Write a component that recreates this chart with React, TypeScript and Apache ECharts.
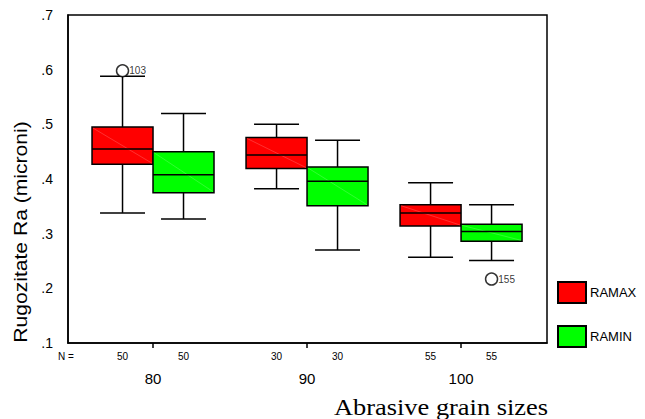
import React, { useEffect, useRef } from "react";
import * as echarts from "echarts";

const categories = ["80", "90", "100"];
const seriesNames = ["RAMAX", "RAMIN"];
const seriesColors = ["#ff0000", "#00ff00"];
const diagColors = ["#ff8a8a", "#8aff8a"];
// [low whisker, Q1, median, Q3, high whisker]
const ramaxStats = [
  [0.338, 0.427, 0.455, 0.495, 0.588],
  [0.382, 0.419, 0.444, 0.476, 0.5],
  [0.257, 0.314, 0.338, 0.353, 0.393],
];
const raminStats = [
  [0.327, 0.375, 0.408, 0.45, 0.52],
  [0.27, 0.351, 0.396, 0.422, 0.471],
  [0.251, 0.286, 0.304, 0.317, 0.353],
];
const ramaxN = [50, 30, 55];
const raminN = [50, 30, 55];
// [category index, value, case label]
const ramaxOutliers = [[0, 0.598, "103"]];
const raminOutliers = [[2, 0.217, "155"]];

const yMin = 0.1;
const yMax = 0.7;
const yStep = 0.1;

const SANS = "'Liberation Sans', Arial, sans-serif";
const SERIF = "'Liberation Serif', 'Times New Roman', serif";

const HALF = 0.198; // half box width in category units
const CAP = 0.146; // half whisker cap width

function buildOption() {
  const stats = [ramaxStats, raminStats];
  const counts = [ramaxN, raminN];
  const outliers = [ramaxOutliers, raminOutliers];

  const boxSeries = stats.map((st, si) => ({
    type: "custom",
    name: seriesNames[si],
    clip: false,
    itemStyle: { color: seriesColors[si], borderColor: "#000", borderWidth: 1 },
    data: st.map((s, ci) => [ci, ...s, counts[si][ci]]),
    renderItem: (params: any, api: any) => {
      const cat = api.value(0);
      const low = api.value(1);
      const q1 = api.value(2);
      const med = api.value(3);
      const q3 = api.value(4);
      const high = api.value(5);
      const n = api.value(6);
      const off = si === 0 ? -HALF : HALF;
      const cx = cat + 1 + off;
      const left = api.coord([cx - HALF, q3]);
      const right = api.coord([cx + HALF, q1]);
      const pMed = api.coord([cx, med]);
      const pLow = api.coord([cx, low]);
      const pHigh = api.coord([cx, high]);
      const capL = api.coord([cx - CAP, low])[0];
      const capR = api.coord([cx + CAP, low])[0];
      const xc = pMed[0];
      const line = (x1: number, y1: number, x2: number, y2: number, color = "#000", w = 1.5, op = 1) => ({
        type: "line",
        shape: { x1, y1, x2, y2 },
        style: { stroke: color, lineWidth: w, opacity: op },
      });
      const base = api.coord([cx, yMin]);
      return {
        type: "group",
        children: [
          line(xc, pHigh[1], xc, left[1]),
          line(xc, right[1], xc, pLow[1]),
          line(capL, pHigh[1], capR, pHigh[1]),
          line(capL, pLow[1], capR, pLow[1]),
          {
            type: "rect",
            shape: { x: left[0], y: left[1], width: right[0] - left[0], height: right[1] - left[1] },
            style: { fill: seriesColors[si], stroke: "#000", lineWidth: 1.5 },
          },
          line(left[0] + 1, left[1] + 1, right[0] - 1, right[1] - 1, diagColors[si], 0.5, 0.7),
          line(left[0], pMed[1], right[0], pMed[1]),
          {
            type: "text",
            style: {
              text: String(n),
              x: xc,
              y: base[1] + 13,
              align: "center",
              verticalAlign: "middle",
              font: `10px ${SANS}`,
              fill: "#000",
            },
          },
        ],
      };
    },
  }));

  const outlierSeries = outliers.map((os, si) => ({
    type: "scatter",
    name: seriesNames[si] + " outliers",
    symbol: "circle",
    symbolSize: 12,
    itemStyle: { color: "#fff", borderColor: "#000", borderWidth: 1.5 },
    data: os.map((o) => [(o[0] as number) + 1 + (si === 0 ? -HALF : HALF), o[1], o[2]]),
    label: {
      show: true,
      position: "right",
      distance: 0,
      formatter: (p: any) => p.data[2],
      fontSize: 10,
      fontFamily: SANS,
      color: "#000",
    },
    z: 5,
  }));

  return {
    animation: false,
    backgroundColor: "#fff",
    grid: {
      left: 68,
      top: 15,
      width: 479,
      height: 328,
      show: true,
      borderColor: "#000",
      borderWidth: 1.5,
      backgroundColor: "transparent",
    },
    xAxis: {
      type: "value",
      min: 0.448,
      max: 3.558,
      splitLine: { show: false },
      axisLine: { show: true, onZero: false, lineStyle: { color: "#000", width: 1.5 } },
      axisTick: { show: true, customValues: [1, 2, 3], length: 5, lineStyle: { color: "#000", width: 1.5 } },
      axisLabel: {
        show: true,
        customValues: [1, 2, 3],
        formatter: (v: number) => categories[Math.round(v) - 1],
        margin: 28,
        fontSize: 15,
        fontFamily: SANS,
        color: "#000",
      },
    },
    yAxis: {
      type: "value",
      min: yMin,
      max: yMax,
      interval: yStep,
      splitLine: { show: false },
      axisLine: { show: true, lineStyle: { color: "#000", width: 1.5 } },
      axisTick: { show: false },
      axisLabel: {
        formatter: (v: number) => v.toFixed(1).replace(/^0/, ""),
        fontSize: 14,
        fontFamily: SANS,
        color: "#000",
        margin: 15,
      },
    },
    legend: {
      data: seriesNames,
      orient: "vertical",
      left: 557,
      top: 281,
      padding: 0,
      icon: "rect",
      itemWidth: 28,
      itemHeight: 21,
      itemGap: 21,
      selectedMode: false,
      textStyle: { fontSize: 13, fontFamily: SANS, color: "#000", padding: [0, 0, 0, -1] },
    },
    graphic: [
      {
        type: "text",
        left: 58,
        top: 351,
        style: { text: "N =", font: `10px ${SANS}`, fill: "#000" },
      },
      {
        type: "text",
        x: 441,
        y: 407,
        scaleX: 1.1,
        style: {
          text: "Abrasive grain sizes",
          font: `24px ${SERIF}`,
          fill: "#000",
          align: "center",
          verticalAlign: "middle",
        },
      },
      {
        type: "text",
        x: 20,
        y: 232,
        rotation: Math.PI / 2,
        scaleX: 1.11,
        style: {
          text: "Rugozitate Ra (microni)",
          font: `19px ${SANS}`,
          fill: "#000",
          align: "center",
          verticalAlign: "middle",
        },
      },
    ],
    series: [...boxSeries, ...outlierSeries],
  };
}

export default function App() {
  const ref = useRef<HTMLDivElement>(null);
  useEffect(() => {
    if (!ref.current) return;
    const chart = echarts.init(ref.current, undefined, { renderer: "svg" });
    chart.setOption(buildOption() as any);
    return () => chart.dispose();
  }, []);
  return <div ref={ref} style={{ width: 645, height: 419, position: "absolute", left: 0, top: 0 }} />;
}
